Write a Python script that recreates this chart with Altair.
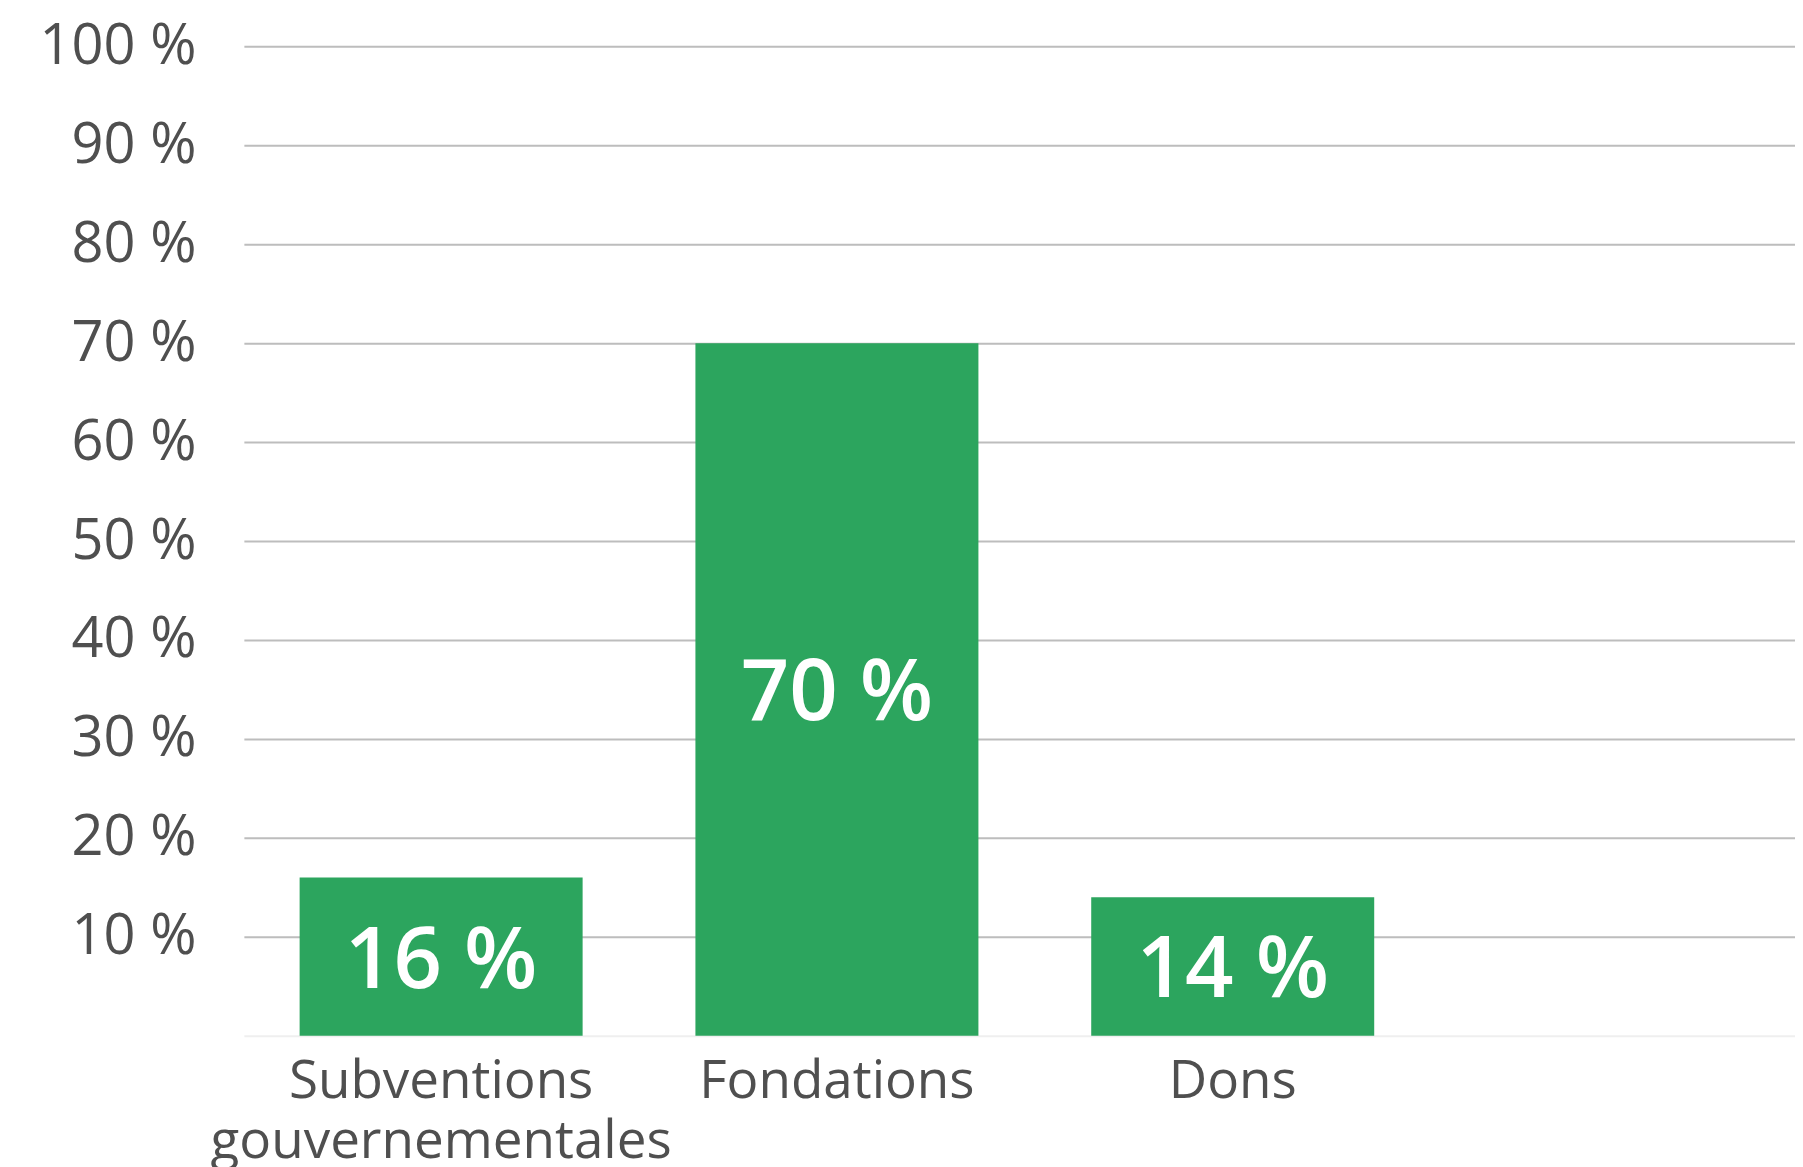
import altair as alt
import pandas as pd

categories = ["Subventions gouvernementales", "Fondations", "Dons"]
axis_labels = ["Subventions|gouvernementales", "Fondations", "Dons"]
values = [16, 70, 14]
y_ticks = [10, 20, 30, 40, 50, 60, 70, 80, 90, 100]

df = pd.DataFrame({"cat": axis_labels, "value": values})
df["label"] = df["value"].astype(str) + " %"
df["mid"] = df["value"] / 2

FONT = "Open Sans"
GREEN = "#2CA55E"
TEXT = "#4F4F4F"

x = alt.X(
    "cat:N",
    sort=axis_labels,
    scale=alt.Scale(paddingInner=0.285, paddingOuter=0.602, align=0.117),
    axis=alt.Axis(
        title=None,
        labelAngle=0,
        labelFont=FONT,
        labelFontSize=53,
        labelColor=TEXT,
        labelPadding=20,
        labelLineHeight=60,
        labelExpr="split(datum.label, '|')",
        ticks=False,
        domain=True,
        domainColor="#EFEFEF",
        domainWidth=2,
        grid=False,
        labelLimit=1000,
    ),
)

yscale = alt.Scale(domain=[0, 100], nice=False)

bars = alt.Chart(df).mark_bar(color=GREEN).encode(
    x=x,
    y=alt.Y(
        "value:Q",
        scale=yscale,
        axis=alt.Axis(
            title=None,
            values=y_ticks,
            labelExpr="datum.value + ' %'",
            labelFont=FONT,
            labelFontSize=56,
            labelColor=TEXT,
            labelPadding=48,
            ticks=False,
            domain=False,
            grid=True,
            gridColor="#BDBDBD",
            gridWidth=2,
        ),
    ),
)

text = alt.Chart(df).mark_text(
    color="white", font=FONT, fontSize=85, fontWeight=600,
    baseline="middle", align="center", dy=5
).encode(
    x=alt.X("cat:N", sort=axis_labels),
    y=alt.Y("mid:Q", scale=yscale),
    text="label:N",
)

chart = (
    alt.layer(bars, text)
    .properties(
        width=1552,
        height=990,
        background="white",
        padding={"left": 31, "top": 10, "right": 0, "bottom": 0},
    )
    .configure_view(strokeWidth=0, stroke="transparent")
    .configure_axisY(domain=False)
)

chart.save("out.html", embed_options={"renderer": "svg", "actions": False})
